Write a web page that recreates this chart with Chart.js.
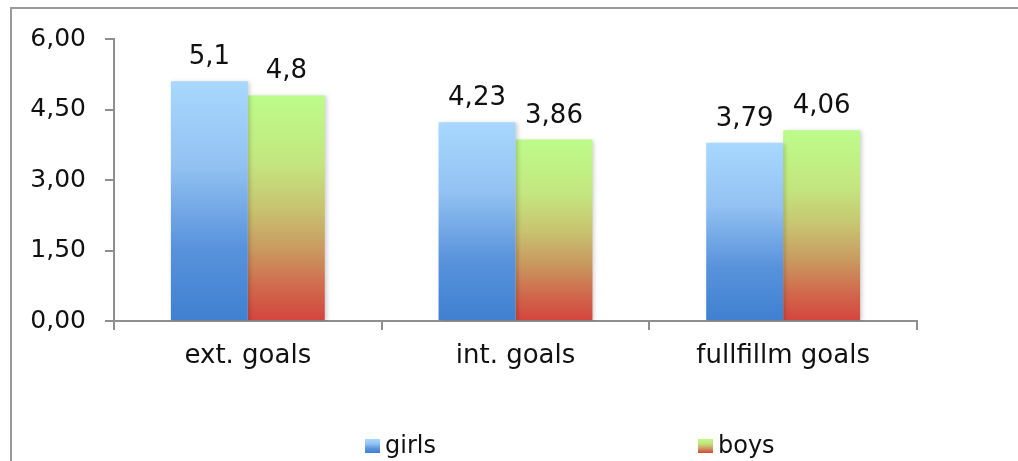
<!DOCTYPE html>
<html>
<head>
<meta charset="utf-8">
<script src="https://cdn.jsdelivr.net/npm/chart.js@4"></script>
<style>
    html, body { margin: 0; padding: 0; background: #fff; }
    #wrap { position: relative; width: 1018px; height: 461px; }
</style>
</head>
<body>
<div id="wrap"><canvas id="chart" width="1018" height="461"></canvas></div>
<script>
const categories = ["ext. goals", "int. goals", "fullfillm goals"];
const girls = [5.1, 4.23, 3.79];
const boys = [4.8, 3.86, 4.06];
const yTicks = [0, 1.5, 3, 4.5, 6];

const font = "'DejaVu Sans', Verdana, sans-serif";
const axisColor = "#8e8e8e";

// gradient stops, top of bar -> bottom
const girlsStops = [[0, "#a8d8fe"], [0.35, "#93c2f2"], [0.7, "#5892dc"], [1, "#3f80d0"]];
const boysStops = [[0, "#bcfc8a"], [0.3, "#c3e67f"], [0.5, "#c8c470"], [0.68, "#c99a60"], [0.85, "#d06a4c"], [1, "#d4443e"]];

function fmt(v) {
    return String(v).replace(".", ",");
}

function barGradient(stops) {
    return (c) => {
        let chart = c.chart;
        if (!chart.chartArea || c.type !== "data") return stops[stops.length - 1][1];
        let y = chart.scales.y;
        let top = y.getPixelForValue(c.raw);
        let bottom = y.getPixelForValue(0);
        let g = chart.ctx.createLinearGradient(0, top, 0, bottom);
        stops.forEach(s => g.addColorStop(s[0], s[1]));
        return g;
    };
}

function boxGradient(ctx, stops, top, bottom) {
    let g = ctx.createLinearGradient(0, top, 0, bottom);
    stops.forEach(s => g.addColorStop(s[0], s[1]));
    return g;
}

// gray frame round the chart (left and top only are visible)
const framePlugin = {
    id: "frame",
    beforeDraw(chart) {
        let ctx = chart.ctx;
        ctx.save();
        ctx.strokeStyle = "#9a9a9a";
        ctx.lineWidth = 2;
        ctx.beginPath();
        ctx.moveTo(11, chart.height + 2);
        ctx.lineTo(11, 8);
        ctx.lineTo(chart.width + 2, 8);
        ctx.stroke();
        ctx.restore();
    }
};

// soft shadow behind the bars
const shadowPlugin = {
    id: "barShadow",
    beforeDatasetsDraw(chart) {
        let ctx = chart.ctx;
        ctx.save();
        ctx.shadowColor = "rgba(0,0,0,0.18)";
        ctx.shadowBlur = 4;
        ctx.shadowOffsetX = 2;
        ctx.shadowOffsetY = 1;
    },
    afterDatasetsDraw(chart) {
        chart.ctx.restore();
    }
};

// value labels above each bar
const valuePlugin = {
    id: "values",
    afterDatasetsDraw(chart) {
        let ctx = chart.ctx;
        ctx.save();
        ctx.font = "26px " + font;
        ctx.fillStyle = "#111";
        ctx.textAlign = "center";
        ctx.textBaseline = "alphabetic";
        chart.data.datasets.forEach((ds, i) => {
            chart.getDatasetMeta(i).data.forEach((bar, j) => {
                ctx.fillText(fmt(ds.data[j]), bar.x, bar.y - 17);
            });
        });
        ctx.restore();
    }
};

// legend laid out like the original: entries spread apart at the bottom
const legendPlugin = {
    id: "spreadLegend",
    afterDraw(chart) {
        let ctx = chart.ctx;
        let items = [
            { text: "girls", stops: girlsStops, x: 365 },
            { text: "boys", stops: boysStops, x: 698 }
        ];
        ctx.save();
        ctx.font = "24px " + font;
        ctx.textBaseline = "alphabetic";
        items.forEach(it => {
            ctx.fillStyle = boxGradient(ctx, it.stops, 439, 453);
            ctx.fillRect(it.x, 439, 15, 14);
            ctx.fillStyle = "#111";
            ctx.fillText(it.text, it.x + 20, 453);
        });
        ctx.restore();
    }
};

new Chart(document.getElementById("chart"), {
    type: "bar",
    data: {
        labels: categories,
        datasets: [
            { label: "girls", data: girls, backgroundColor: barGradient(girlsStops) },
            { label: "boys", data: boys, backgroundColor: barGradient(boysStops) }
        ]
    },
    options: {
        responsive: false,
        animation: false,
        events: [],
        layout: { padding: { left: 0, top: 39, right: 101, bottom: 0 } },
        datasets: { bar: { barPercentage: 1, categoryPercentage: 0.575 } },
        scales: {
            x: {
                grid: { drawOnChartArea: false, drawTicks: true, tickLength: 9, color: axisColor, lineWidth: 2 },
                border: { color: axisColor, width: 2 },
                ticks: { color: "#111", font: { family: font, size: 26 }, padding: 11 },
                afterFit(scale) { scale.height = 140; }
            },
            y: {
                min: 0,
                max: 6,
                afterBuildTicks(scale) { scale.ticks = yTicks.map(v => ({ value: v })); },
                grid: { drawOnChartArea: false, drawTicks: true, tickLength: 9, color: axisColor, lineWidth: 2 },
                border: { color: axisColor, width: 2 },
                ticks: {
                    color: "#111",
                    font: { family: font, size: 25 },
                    padding: 19,
                    callback: v => v.toFixed(2).replace(".", ",")
                },
                afterFit(scale) { scale.width = 114; }
            }
        },
        plugins: {
            legend: { display: false },
            tooltip: { enabled: false }
        }
    },
    plugins: [framePlugin, shadowPlugin, valuePlugin, legendPlugin]
});
</script>
</body>
</html>
